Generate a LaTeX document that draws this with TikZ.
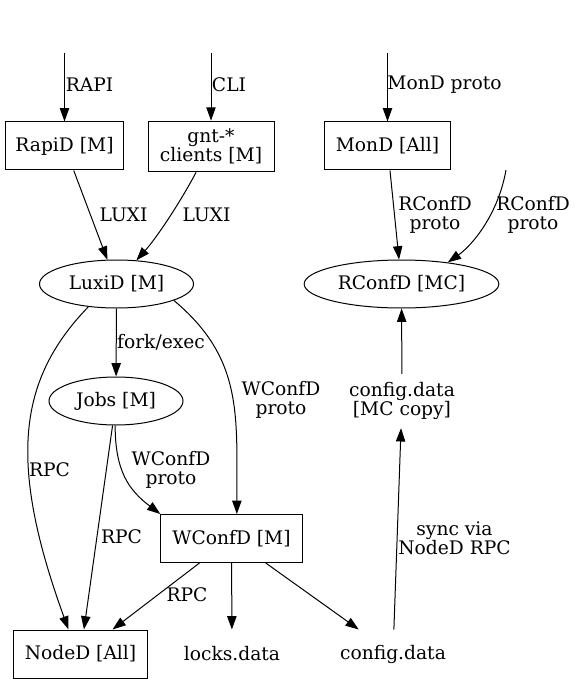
\documentclass[tikz,border=0pt]{standalone}
\usepackage{fontspec}
\setmainfont{DejaVu Serif}
\usetikzlibrary{arrows.meta,shapes.geometric}

\begin{document}
\begin{tikzpicture}[x=0.75pt, y=0.75pt, line width=0.75pt,
  font=\fontsize{14}{14.5}\selectfont,
  >={Triangle[length=10pt,width=7pt]},
  daemon/.style={draw, rectangle, minimum height=36pt, inner sep=2pt, align=center},
  proc/.style={draw, ellipse, minimum height=36pt, inner sep=1pt},
  datafile/.style={rectangle, minimum height=36pt, inner sep=1pt, align=center},
  lbl/.style={inner sep=0pt, align=center}]
\useasboundingbox (0,0) rectangle (578,-684);

% Daemons and processes
\node[daemon, minimum width=89pt] (rapid) at (64.5,-146) {RapiD [M]};
\node[daemon, minimum width=94.5pt, minimum height=38pt] (gnt) at (211,-146.5) {gnt-*\\clients [M]};
\node[daemon, minimum width=95pt] (mond) at (387.5,-146) {MonD [All]};
\node[proc, minimum width=115.5pt] (luxid) at (116.5,-284) {LuxiD [M]};
\node[proc, minimum width=146pt] (rconfd) at (401.5,-284) {RConfD [MC]};
\node[proc, minimum width=100.5pt] (jobs) at (116,-401) {Jobs [M]};
\node[daemon, minimum width=106pt] (wconfd) at (231.5,-538.5) {WConfD [M]};
\node[daemon, minimum width=101pt] (noded) at (80.5,-654) {NodeD [All]};

% Data files
\node[datafile] (locks) at (232,-654) {locks.data};
\node[datafile] (config) at (393,-654) {config.data};
\node[datafile, minimum height=40pt] (mccopy) at (402,-401) {config.data\\{[MC copy]}};

% Outside entry points
\coordinate (rapiin) at (64.5,-53);
\coordinate (cliin) at (211,-53);
\coordinate (mondin) at (387.5,-53);
\coordinate (rconfin) at (506,-170);

% Arrows
\draw[->] (rapiin) -- (rapid);
\draw[->] (cliin) -- (gnt);
\draw[->] (mondin) -- (mond);
\draw[->] (rapid) -- (luxid);
\draw[->] (gnt.240) .. controls +(-118:35) and +(48:30) .. (luxid.50);
\draw[->] (mond) -- (rconfd);
\draw[->] (rconfin) .. controls +(-100:45) and +(35:30) .. (rconfd.25);
\draw[->] (mccopy) -- (rconfd);
\draw[->] (config) -- (mccopy);

\draw[->] (luxid) -- (jobs);
\draw[->] (luxid.-16) .. controls +(-40:90) and +(90:100) .. ([xshift=4pt]wconfd.north);
\draw[->] (luxid.-141) .. controls +(-134:100) and +(110:180) .. ([xshift=-9pt]noded.north);
\draw[->] (jobs) -- (noded);
\draw[->] (jobs.-92) .. controls +(-90:45) and +(143:40) .. (wconfd.north west);

\draw[->] (wconfd) -- (noded);
\draw[->] (wconfd) -- (locks);
\draw[->] (wconfd) -- (config);

% Labels
\node[lbl] (lrapi) at (89.5,-85) {RAPI};
\node[lbl] (lcli) at (229,-85) {CLI};
\node[lbl] (lmond) at (444.5,-85) {MonD proto};
\node[lbl] (lluxia) at (123.5,-215) {LUXI};
\node[lbl] (lluxib) at (206.5,-215) {LUXI};
\node[lbl] (lrconfa) at (435,-215) {RConfD\\proto};
\node[lbl] (lrconfb) at (533,-215) {RConfD\\proto};
\node[lbl] (lfork) at (161,-342) {fork/exec};
\node[lbl] (lwconfa) at (281,-400) {WConfD\\proto};
\node[lbl] (lrpca) at (49.5,-470) {RPC};
\node[lbl] (lwconfb) at (171,-470) {WConfD\\proto};
\node[lbl] (lrpcb) at (121.5,-537) {RPC};
\node[lbl] (lrpcc) at (187,-595) {RPC};
\node[lbl] (lsync) at (454.5,-538) {sync via\\NodeD RPC};
\end{tikzpicture}
\end{document}
